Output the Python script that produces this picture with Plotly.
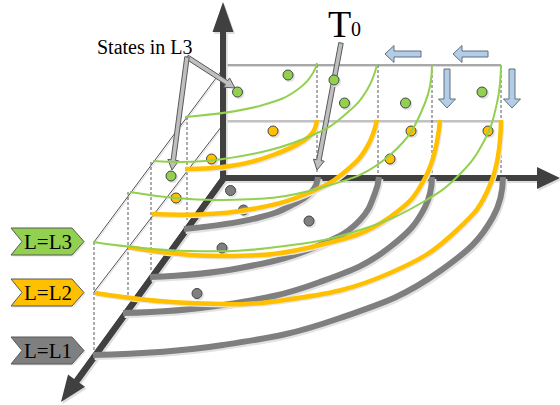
import math
import plotly.graph_objects as go

W, H = 560, 405
DARK = "#404040"
EDGE = "#595959"
GRAY = "#7f7f7f"
ORANGE = "#ffc000"
GREEN = "#92d050"
BLUE = "#b3cde6"
SERIF = "Liberation Serif, Times New Roman, serif"

# curves
gray_1 = [(184,229),(257,218),(290,206),(313,190),(318,177)]
gray_2 = [(150,277),(240,268),(320,245),(360,220),(375,193),(379,177)]
gray_3 = [(123,313),(223,305),(320,282),(390,247),(425,207),(432,177)]
gray_4 = [(93,355),(223,345),(340,318),(440,271),(493,217),(503,177)]
orange_1 = [(185,169),(230,166),(273,155),(303,141),(313,132),(317,120)]
orange_2 = [(152,214),(240,211),(313,191),(347,170),(367,147),(377,120)]
orange_3 = [(128,247),(223,256),(320,245),(390,217),(425,178),(440,120)]
orange_4 = [(95,293),(190,303),(285,300),(390,273),(457,230),(490,185),(501,120)]
green_1 = [(185,117),(263,105),(297,90),(313,73),(317,63)]
green_2 = [(153,161),(223,159),(313,135),(347,113),(367,90),(377,65)]
green_3 = [(130,192),(223,200),(320,188),(390,155),(425,103),(432,65)]
green_4 = [(93,242),(190,251),(285,246),(360,230),(423,202),(457,177),(483,143),(497,103),(501,65)]

# state dots
dots_gray = [(230.5,190.5),(243.5,210),(222,248),(197,293.5),(309,221)]
dots_orange = [(273,131),(211.5,159),(176,198),(411,131),(488,131),(390,159)]
dots_green = [(288,75),(334,80),(344.5,103),(405.5,103),(482,92),(237.5,92),(171,176)]

# frame lines
solid_lines = [[(225,65),(501,65)],[(225,121),(501,121)],[(225,66),(94,242)],[(225,122),(94,292)]]
dashed_lines = [[(94,242),(94,350)],[(128,192),(128,300)],[(151,162),(151,270)],[(187,117),(187,222)],
                [(317,65),(317,172)],[(378,65),(378,175)],[(432,65),(432,175)],[(501,65),(501,175)]]

# axes: shaft start, shaft end, arrow tip
axes = [[(223,178),(223,32),(223,2)],[(222,178),(537,178),(560,178)],[(224,178),(77,381),(61,402)]]

# callouts: start, tip
callouts = [[(341,43),(317,170)],[(187,57),(235,88)],[(187,57),(172,170)]]
# blue hints: start, tip
hints = [[(421,54),(385,54)],[(488,54),(453,54)],[(447,69),(447,108)],[(512,69),(512,108)]]

# tags
tag_names = ["L=L3","L=L2","L=L1"]
tag_centres = [241.5,292.5,350.5]
tag_colors = [GREEN,ORANGE,GRAY]

fig = go.Figure()

def line(points, color, width, dash=None, spline=False, dx=0, dy=0):
    fig.add_trace(go.Scatter(
        x=[p[0]+dx for p in points], y=[p[1]+dy for p in points], mode="lines",
        line=dict(color=color, width=width, dash=dash, shape="spline" if spline else "linear", smoothing=1.3),
        hoverinfo="skip", showlegend=False))

def poly(points, fill, edge=None, width=1):
    fig.add_trace(go.Scatter(
        x=[p[0] for p in points], y=[p[1] for p in points], mode="lines", fill="toself", fillcolor=fill,
        line=dict(color=edge or fill, width=width if edge else 0),
        hoverinfo="skip", showlegend=False))

def arrow_outline(a, b, shaft, head, head_len):
    L = math.hypot(b[0]-a[0], b[1]-a[1])
    ux, uy = (b[0]-a[0])/L, (b[1]-a[1])/L
    nx, ny = -uy, ux
    bx, by = b[0]-ux*head_len, b[1]-uy*head_len
    s, h = shaft/2, head/2
    return [(a[0]+nx*s,a[1]+ny*s),(bx+nx*s,by+ny*s),(bx+nx*h,by+ny*h),b,
            (bx-nx*h,by-ny*h),(bx-nx*s,by-ny*s),(a[0]-nx*s,a[1]-ny*s),(a[0]+nx*s,a[1]+ny*s)]

def dots(points, color):
    fig.add_trace(go.Scatter(
        x=[p[0]+1.5 for p in points], y=[p[1]+1.5 for p in points], mode="markers",
        marker=dict(size=11, color="#e2e2e2"), hoverinfo="skip", showlegend=False))
    fig.add_trace(go.Scatter(
        x=[p[0] for p in points], y=[p[1] for p in points], mode="markers",
        marker=dict(size=10, color=color, line=dict(color="#454545", width=1)), hoverinfo="skip", showlegend=False))

for seg in solid_lines:
    line(seg, "#dcdcdc", 1, dx=0.8, dy=1.5)
line(solid_lines[0], "#505050", 1)
line(solid_lines[1], "#858585", 1)
line(solid_lines[2], "#505050", 1)
line(solid_lines[3], "#505050", 1)
for seg in dashed_lines:
    line(seg, EDGE, 1, dash="3px,2px")

for a, b, tip in axes:
    line([a, b], "#dddddd", 6, dx=1.5, dy=2)
    poly(arrow_outline((a[0]+1.5,a[1]+2),(tip[0]+1.5,tip[1]+2),6,
         22 if b[1]==178 else 21, math.hypot(tip[0]-b[0],tip[1]-b[1])), "#dddddd")
for a, b, tip in axes:
    line([a, b], DARK, 6)
    poly(arrow_outline(a, tip, 6, 22 if b[1]==178 else 21, math.hypot(tip[0]-b[0],tip[1]-b[1])), DARK)

for a, b in callouts:
    poly(arrow_outline(a, b, 4.5, 11, 10), "#bfbfbf", EDGE, 1)

dots(dots_gray, GRAY)
dots(dots_orange, ORANGE)
dots(dots_green, GREEN)

for curve in (gray_1, gray_2, gray_3, gray_4):
    line(curve, "#e2e2e2", 6, spline=True, dx=1.5, dy=2)
    line(curve, GRAY, 6, spline=True)
for curve in (orange_1, orange_2, orange_3, orange_4):
    line(curve, "#e6e6e6", 4, spline=True, dx=1.2, dy=1.5)
    line(curve, ORANGE, 4.5, spline=True)
for curve in (green_1, green_2, green_3, green_4):
    line(curve, GREEN, 2, spline=True)

for a, b in hints:
    poly(arrow_outline(a, b, 6, 17, 9), BLUE, "#5f6f7f", 1)

for name, cy, color in zip(tag_names, tag_centres, tag_colors):
    tag = [(11,cy-13.5),(72,cy-13.5),(84,cy),(72,cy+13.5),(11,cy+13.5),(22,cy),(11,cy-13.5)]
    poly([(x+1.5,y+1.5) for x,y in tag], "#e4e4e4")
    poly(tag, color, EDGE, 1)
    fig.add_annotation(x=47.5, y=cy, text=name, showarrow=False, font=dict(family=SERIF, size=21, color="#000000"))

fig.add_annotation(x=145, y=47, text="States in L3", showarrow=False, font=dict(family=SERIF, size=20, color="#000000"))
fig.add_annotation(x=339, y=24, text="T", showarrow=False, font=dict(family=SERIF, size=38, color="#000000"))
fig.add_annotation(x=356, y=29, text="0", showarrow=False, font=dict(family=SERIF, size=20, color="#000000"))

fig.update_layout(
    width=W, height=H, margin=dict(l=0, r=0, t=0, b=0, pad=0),
    paper_bgcolor="white", plot_bgcolor="white", showlegend=False,
    xaxis=dict(range=[0, W], visible=False, fixedrange=True),
    yaxis=dict(range=[H, 0], visible=False, fixedrange=True),
)
fig.write_html("out.html", config={"displayModeBar": False, "staticPlot": True},
               post_script="document.body.style.margin='0';")
